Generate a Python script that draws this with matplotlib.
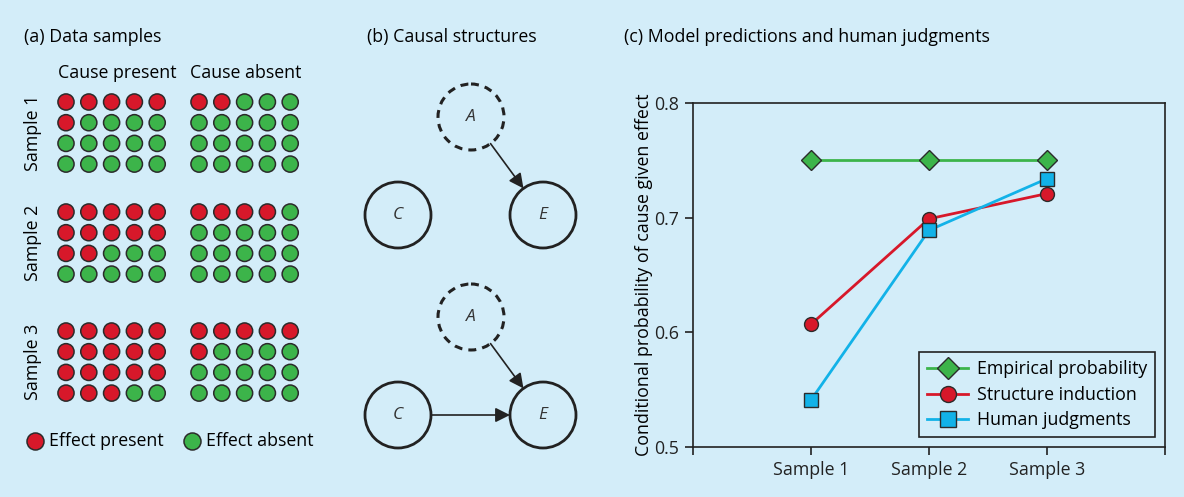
import matplotlib.pyplot as plt
import numpy as np
from matplotlib.patches import Circle

plt.rcParams['font.family'] = ['Open Sans', 'DejaVu Sans']

# panel (a): number of "effect present" dots out of 20 in each grid
sample_names = ['Sample 1', 'Sample 2', 'Sample 3']
present_counts = [6, 12, 18]   # cause present
absent_counts = [2, 4, 6]      # cause absent

# panel (c)
x_labels = ['Sample 1', 'Sample 2', 'Sample 3']
empirical = [0.75, 0.75, 0.75]
structure = [0.607, 0.699, 0.721]
human = [0.541, 0.689, 0.734]

bg = '#d3edf9'
red = '#d7182a'
green = '#3cb44a'
blue = '#12b2e8'
edge = '#2b2b2b'

fig = plt.figure(figsize=(11.84, 4.97), dpi=100, facecolor=bg)
cv = fig.add_axes([0, 0, 1, 1])
cv.set_xlim(0, 1184)
cv.set_ylim(497, 0)
cv.axis('off')

fs = 12.8

# ---------- (a) Data samples ----------
cv.text(24, 37, '(a) Data samples', fontsize=fs, va='center')
cv.text(117, 73, 'Cause present', fontsize=fs, va='center', ha='center')
cv.text(246, 73, 'Cause absent', fontsize=fs, va='center', ha='center')

row_tops = [102, 212, 331]
dx, dy = 22.8, 20.7
for name, y0, n_pres, n_abs in zip(sample_names, row_tops, present_counts, absent_counts):
    for x0, n_red in [(66, n_pres), (199, n_abs)]:
        k = np.arange(20)
        xs = x0 + (k % 5) * dx
        ys = y0 + (k // 5) * dy
        cols = [red if i < n_red else green for i in k]
        cv.scatter(xs, ys, s=135, c=cols, edgecolors=edge, linewidths=1.1, zorder=3)
    cv.text(33, y0 + 1.5 * dy, name, fontsize=fs, rotation=90, ha='center', va='center')

cv.scatter([35], [441], s=150, c=red, edgecolors=edge, linewidths=1.1)
cv.text(49, 441, 'Effect present', fontsize=fs, va='center')
cv.scatter([192], [441], s=150, c=green, edgecolors=edge, linewidths=1.1)
cv.text(206, 441, 'Effect absent', fontsize=fs, va='center')

# ---------- (b) Causal structures ----------
cv.text(367, 37, '(b) Causal structures', fontsize=fs, va='center')

r = 33
arrow_kw = dict(arrowstyle='-|>', color='#222222', lw=1.2, mutation_scale=22,
                shrinkA=0, shrinkB=0)
for yoff, with_link in [(0, False), (200, True)]:
    A = np.array([471, 117 + yoff])
    C = np.array([398, 215 + yoff])
    E = np.array([543, 215 + yoff])
    cv.add_patch(Circle(A, r, fill=False, ec='#222222', lw=2.2, ls=(0, (2.6, 2))))
    cv.add_patch(Circle(C, r, fill=False, ec='#222222', lw=2))
    cv.add_patch(Circle(E, r, fill=False, ec='#222222', lw=2))
    for p, lab in [(A, 'A'), (C, 'C'), (E, 'E')]:
        cv.text(p[0], p[1], lab, fontsize=12.5, style='italic', ha='center', va='center',
                color='#333333')
    u = (E - A) / np.linalg.norm(E - A)
    cv.annotate('', xy=E - r * u, xytext=A + r * u, arrowprops=arrow_kw)
    if with_link:
        cv.annotate('', xy=E - [r, 0], xytext=C + [r, 0], arrowprops=arrow_kw)

# ---------- (c) Model predictions ----------
cv.text(624, 37, '(c) Model predictions and human judgments', fontsize=fs, va='center')

ax = fig.add_axes([693 / 1184, 50 / 497, 472 / 1184, 344 / 497])
ax.set_facecolor('none')
xs = np.arange(1, len(x_labels) + 1)
ax.plot(xs, empirical, color=green, lw=2, marker='D', ms=10, mfc=green, mec=edge,
        mew=1, label='Empirical probability', zorder=3)
ax.plot(xs, structure, color=red, lw=2, marker='o', ms=10, mfc=red, mec=edge,
        mew=1, label='Structure induction', zorder=4)
ax.plot(xs, human, color=blue, lw=2, marker='s', ms=9.5, mfc=blue, mec=edge,
        mew=1, label='Human judgments', zorder=5)

ax.set_xlim(0, 4)
ax.set_ylim(0.5, 0.8)
ax.set_xticks(np.arange(0, 5))
ax.set_xticklabels([''] + x_labels + [''])
ax.set_yticks([0.5, 0.6, 0.7, 0.8])
ax.set_yticklabels(['0.5', '0.6', '0.7', '0.8'])
ax.tick_params(direction='out', length=6, width=1.2, labelsize=fs, colors='#222222',
               pad=4)
for sp in ax.spines.values():
    sp.set_linewidth(1.2)
    sp.set_color('#222222')
ax.set_ylabel('Conditional probability of cause given effect', fontsize=fs, labelpad=1)

leg = ax.legend(loc='lower right', fontsize=fs, frameon=True, fancybox=False,
                edgecolor='#222222', facecolor=bg, framealpha=1, handlelength=2.3,
                borderaxespad=0.55, labelspacing=0.42, borderpad=0.45, handletextpad=0.5,
                markerscale=1.15)
leg.get_frame().set_linewidth(1.2)

fig.savefig('out.png', dpi=100, facecolor=bg)
